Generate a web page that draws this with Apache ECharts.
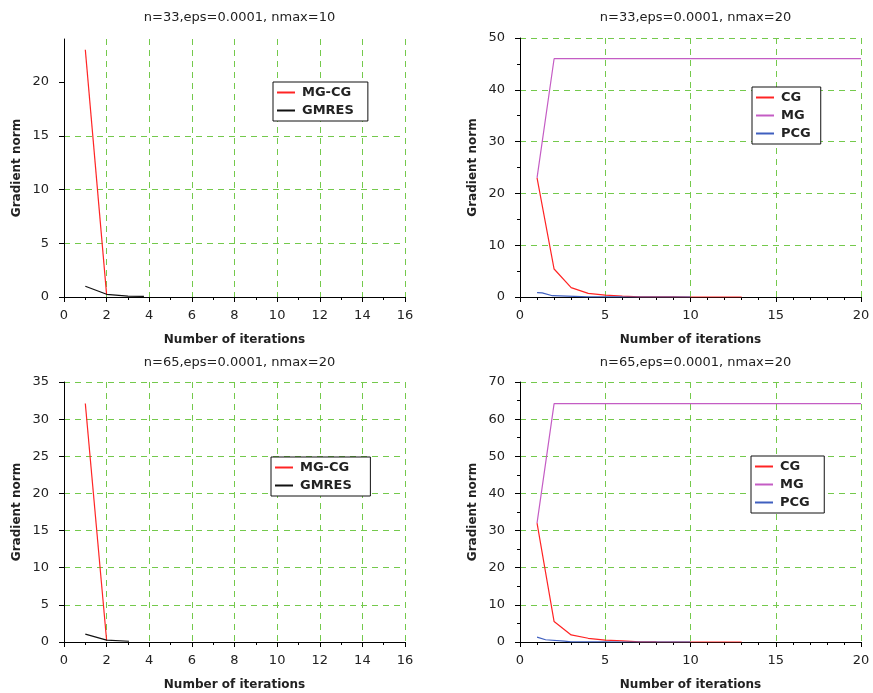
<!DOCTYPE html>
<html>
<head>
<meta charset="utf-8">
<script src="https://cdn.jsdelivr.net/npm/echarts@6/dist/echarts.min.js"></script>
<style>
  html, body { margin: 0; padding: 0; background: #fff; }
  #chart { width: 873px; height: 693px; }
</style>
</head>
<body>
<div id="chart"></div>
<script>
// Convergence histories: [iteration, gradient norm]
const titles = [
  'n=33,eps=0.0001, nmax=10',
  'n=33,eps=0.0001, nmax=20',
  'n=65,eps=0.0001, nmax=20',
  'n=65,eps=0.0001, nmax=20'
];

// n=33, nmax=10
const mgcg33 = [[1, 23.0], [2, 0.2]];
const gmres33 = [[1, 1.0], [2, 0.25], [3, 0.08], [3.75, 0.05]];

// n=33, nmax=20
const cg33 = [[1, 23.0], [2, 5.4], [3, 1.8], [4, 0.7], [5, 0.35], [6, 0.15], [7, 0.02],
  [8, 0.01], [9, 0.005], [10, 0.003], [11, 0.002], [12, 0.001], [13, 0.001]];
const mg33 = [[1, 23.0], [2, 46.0], [3, 46.0], [4, 46.0], [5, 46.0], [6, 46.0], [7, 46.0],
  [8, 46.0], [9, 46.0], [10, 46.0], [11, 46.0], [12, 46.0], [13, 46.0], [14, 46.0],
  [15, 46.0], [16, 46.0], [17, 46.0], [18, 46.0], [19, 46.0], [20, 46.0]];
const pcg33 = [[1, 0.85], [1.3, 0.8], [1.9, 0.25], [3.2, 0.12], [4, 0.02], [5, 0.01],
  [6, 0.005], [7, 0.002], [8, 0.001], [9, 0.001], [10, 0.0005]];

// n=65, nmax=20 (MG-CG / GMRES)
const mgcg65 = [[1, 32.1], [2, 0.2]];
const gmres65 = [[1, 1.05], [2, 0.25], [3.05, 0.1]];

// n=65, nmax=20 (CG / MG / PCG)
const cg65 = [[1, 32.0], [2, 5.5], [3, 1.9], [4, 1.0], [5, 0.5], [6, 0.3], [7, 0.03],
  [8, 0.01], [9, 0.005], [10, 0.003], [11, 0.002], [12, 0.001], [13, 0.001]];
const mg65 = [[1, 32.0], [2, 64.2], [3, 64.2], [4, 64.2], [5, 64.2], [6, 64.2], [7, 64.2],
  [8, 64.2], [9, 64.2], [10, 64.2], [11, 64.2], [12, 64.2], [13, 64.2], [14, 64.2],
  [15, 64.2], [16, 64.2], [17, 64.2], [18, 64.2], [19, 64.2], [20, 64.2]];
const pcg65 = [[1, 1.3], [1.5, 0.6], [2.6, 0.25], [3, 0.05], [4, 0.02], [5, 0.01],
  [6, 0.005], [7, 0.002], [8, 0.001], [9, 0.001], [10, 0.0005]];

const xLabel = 'Number of iterations';
const yLabel = 'Gradient norm';

const RED = '#ff2424', MAGENTA = '#c45cc4', BLUE = '#3f5fbf', BLACK = '#111111';
const GRID_GREEN = '#74c94c';
const FONT = 'DejaVu Sans';

const grids = [
  { left: 64, width: 341, top: 39, height: 258 },
  { left: 520, width: 341, top: 38, height: 259 },
  { left: 64, width: 341, top: 382, height: 260 },
  { left: 520, width: 341, top: 382, height: 260 }
];

function xAxis(gi, max, interval, minorSplit) {
  return {
    type: 'value', gridIndex: gi, min: 0, max: max, interval: interval,
    name: xLabel, nameLocation: 'middle', nameGap: 37,
    nameTextStyle: { fontFamily: FONT, fontSize: 12, fontWeight: 'bold', color: '#222' },
    axisLine: { show: true, onZero: false, lineStyle: { color: '#000', width: 1 } },
    axisTick: { show: true, inside: false, length: 5, lineStyle: { color: '#000' } },
    minorTick: { show: true, splitNumber: minorSplit, length: 3, lineStyle: { color: '#000' } },
    axisLabel: { fontFamily: FONT, fontSize: 13, color: '#222', margin: 12 },
    splitLine: { show: true, showMinLine: false, lineStyle: { color: GRID_GREEN, type: [6, 5], width: 1 } }
  };
}

function yAxis(gi, max, interval, minorSplit, labelTicks) {
  const ax = {
    type: 'value', gridIndex: gi, min: 0, max: max, interval: interval,
    name: yLabel, nameLocation: 'middle', nameGap: 41, nameRotate: 90,
    nameTextStyle: { fontFamily: FONT, fontSize: 12, fontWeight: 'bold', color: '#222' },
    axisLine: { show: true, onZero: false, lineStyle: { color: '#000', width: 1 } },
    axisTick: { show: true, inside: false, length: 5, lineStyle: { color: '#000' } },
    minorTick: { show: minorSplit > 1, splitNumber: minorSplit, length: 3, lineStyle: { color: '#000' } },
    axisLabel: { fontFamily: FONT, fontSize: 13, color: '#222', margin: 15 },
    splitLine: { show: true, showMinLine: false, lineStyle: { color: GRID_GREEN, type: [6, 5], width: 1 } }
  };
  if (labelTicks) {
    ax.axisTick.customValues = labelTicks;
    ax.axisLabel.customValues = labelTicks;
    ax.splitLine.showMaxLine = false;
  }
  return ax;
}

function line(name, data, color, gi) {
  return {
    type: 'line', name: name, data: data, xAxisIndex: gi, yAxisIndex: gi,
    symbol: 'none', animation: false, clip: true,
    lineStyle: { color: color, width: 1.2 }, itemStyle: { color: color }
  };
}

function legend(names, left, top, padRight) {
  return {
    data: names, orient: 'vertical', left: left, top: top,
    backgroundColor: '#fff', borderColor: '#111', borderWidth: 1,
    padding: [4, padRight, 4, 4], itemGap: 5, itemWidth: 18, itemHeight: 2,
    icon: 'rect', selectedMode: false,
    textStyle: { fontFamily: FONT, fontSize: 13, fontWeight: 'bold', color: '#222', padding: [0, 0, 0, 2] }
  };
}

const option = {
  backgroundColor: '#fff',
  animation: false,
  title: titles.map((t, i) => ({
    text: t, left: grids[i].left + grids[i].width / 2, top: i < 2 ? 6 : 351, textAlign: 'center',
    textStyle: { fontFamily: FONT, fontSize: 13, fontWeight: 'normal', color: '#222' }
  })),
  grid: grids,
  xAxis: [xAxis(0, 16, 2, 2), xAxis(1, 20, 5, 5), xAxis(2, 16, 2, 2), xAxis(3, 20, 5, 5)],
  yAxis: [
    yAxis(0, 24, 5, 1, [0, 5, 10, 15, 20]),
    yAxis(1, 50, 10, 2),
    yAxis(2, 35, 5, 1),
    yAxis(3, 70, 10, 2)
  ],
  legend: [
    legend(['MG-CG', 'GMRES'], 273, 82, 14),
    legend(['CG', 'MG', 'PCG'], 752, 87, 10),
    legend(['MG-CG ', 'GMRES '], 271, 457, 14),
    legend(['CG ', 'MG ', 'PCG '], 751, 456, 10)
  ],
  series: [
    line('MG-CG', mgcg33, RED, 0),
    line('GMRES', gmres33, BLACK, 0),
    line('CG', cg33, RED, 1),
    line('MG', mg33, MAGENTA, 1),
    line('PCG', pcg33, BLUE, 1),
    line('MG-CG ', mgcg65, RED, 2),
    line('GMRES ', gmres65, BLACK, 2),
    line('CG ', cg65, RED, 3),
    line('MG ', mg65, MAGENTA, 3),
    line('PCG ', pcg65, BLUE, 3)
  ]
};

const chart = echarts.init(document.getElementById('chart'), null, { renderer: 'canvas' });
chart.setOption(option);
</script>
</body>
</html>
